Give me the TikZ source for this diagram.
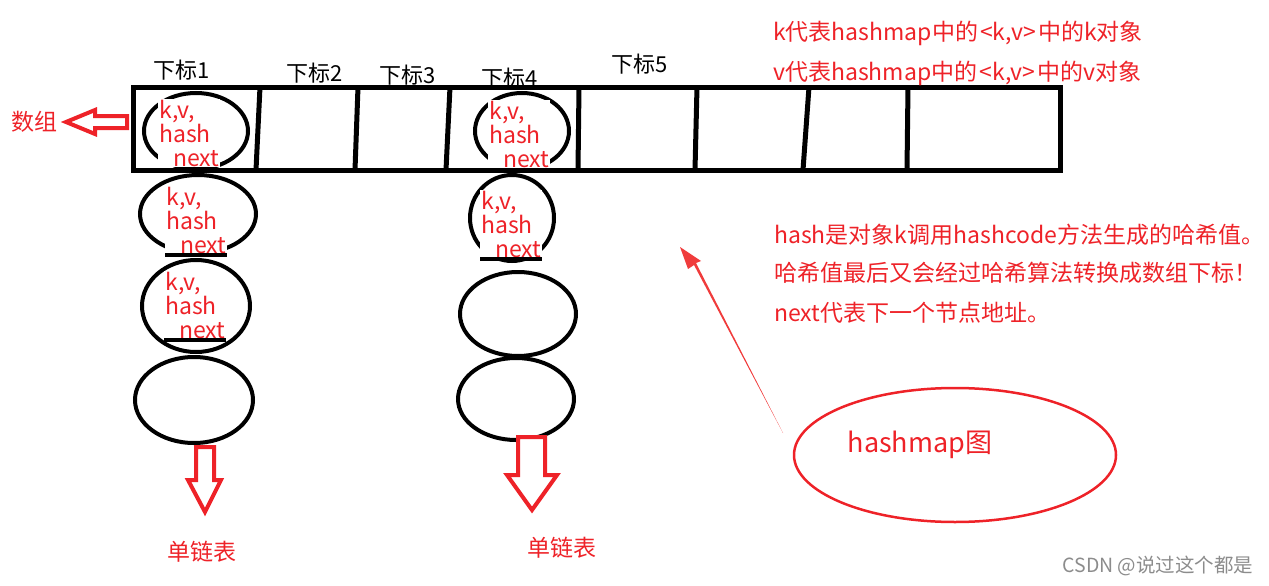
\documentclass[tikz,border=0pt]{standalone}
\usepackage{fontspec}
\setmainfont{Noto Sans CJK SC}
\usetikzlibrary{shapes.geometric}
\definecolor{myred}{RGB}{238,34,40}
\definecolor{arrred}{RGB}{240,60,60}
\tikzset{
  cell/.style={line width=5pt,black},
  node ell/.style={draw=black,line width=4pt,ellipse},
  idx/.style={font=\fontsize{22}{24}\selectfont,text=black,inner sep=0pt},
  kv/.style={font=\fontsize{23}{21}\selectfont,text=myred,fill=white,align=left,inner sep=1pt,anchor=north west},
  redtxt/.style={font=\fontsize{23}{25}\selectfont,text=myred,inner sep=0pt,anchor=west},
  hollow/.style={draw=myred,line width=4pt,fill=white,line join=miter},
  bar/.style={line width=4pt,black},
}
\newcommand{\kvtext}{k,v,\\hash\\[3pt]\hspace*{14pt}next}
\newcommand{\pairtxt}{\hspace{2pt}<k,v>\hspace{2pt}}
\begin{document}
\begin{tikzpicture}[x=1pt,y=-1pt]
\useasboundingbox (0,0) rectangle (1269,586);
% array
\draw[cell] (133,87) rectangle (1060,170);
\coordinate (d1t) at (260,87); \coordinate (d1b) at (256,170);
\coordinate (d2t) at (358,87); \coordinate (d2b) at (355,170);
\coordinate (d3t) at (450,87); \coordinate (d3b) at (446,170);
\coordinate (d4t) at (579,87); \coordinate (d4b) at (578,170);
\coordinate (d5t) at (697,87); \coordinate (d5b) at (695,170);
\coordinate (d6t) at (809,87); \coordinate (d6b) at (803,170);
\coordinate (d7t) at (908,87); \coordinate (d7b) at (907,170);
\foreach \i in {1,...,7} {\draw[cell] (d\i t) -- (d\i b);}
% index labels
\node[idx] (i1) at (182,70) {下标1};
\node[idx] (i2) at (315,73) {下标2};
\node[idx] (i3) at (408,75) {下标3};
\node[idx] (i4) at (510,78) {下标4};
\node[idx] (i5) at (640,64) {下标5};
% array label and hollow left arrow
\node[font=\fontsize{23}{25}\selectfont,text=myred,inner sep=0pt] (arr) at (35,122) {数组};
\draw[hollow] (66,122) -- (95,110) -- (95,116) -- (127,116) -- (127,128) -- (95,128) -- (95,134) -- cycle;
% left column ellipses
\node[node ell,minimum width=104pt,minimum height=76pt] (L1) at (196,131) {};
\node[node ell,minimum width=116pt,minimum height=78pt] (L2) at (198,214) {};
\node[node ell,minimum width=108pt,minimum height=92pt] (L3) at (196,306) {};
\node[node ell,minimum width=118pt,minimum height=86pt] (L4) at (194,400) {};
% right column ellipses
\node[node ell,minimum width=94pt,minimum height=76pt] (R1) at (522,131) {};
\node[node ell,minimum width=84pt,minimum height=86pt] (R2) at (512,218) {};
\node[node ell,minimum width=116pt,minimum height=84pt] (R3) at (518,314) {};
\node[node ell,minimum width=116pt,minimum height=82pt] (R4) at (516,399) {};
% texts in nodes
\node[kv] (tL1) at (158,99) {\kvtext};
\node[kv] (tL2) at (165,186) {\kvtext};
\node[kv] (tL3) at (164,271) {\kvtext};
\node[kv] (tR1) at (488,100) {\kvtext};
\node[kv] (tR2) at (480,190) {\kvtext};
\draw[cell] (133,170) -- (260,170);
\draw[cell] (446,170) -- (579,170);
\draw[bar] (tL2.south west) -- (tL2.south east);
\draw[bar] (tL3.south west) -- (tL3.south east);
\draw[bar] (tR2.south west) -- (tR2.south east);
% hollow down arrows
\draw[hollow] (205,512) -- (188,480) -- (196,480) -- (196,447) -- (214,447) -- (214,480) -- (221,480) -- cycle;
\draw[hollow] (532,510) -- (507,475) -- (518,475) -- (518,437) -- (545,437) -- (545,475) -- (557,475) -- cycle;
\node[font=\fontsize{23}{25}\selectfont,text=myred,inner sep=0pt] (ll1) at (202,552) {单链表};
\node[font=\fontsize{23}{25}\selectfont,text=myred,inner sep=0pt] (ll2) at (562,548) {单链表};
% notes
\node[redtxt] (n1) at (773,33) {k代表hashmap中的\pairtxt 中的k对象};
\node[redtxt] (n2) at (773,73) {v代表hashmap中的\pairtxt 中的v对象};
\node[redtxt] (n3) at (774,235) {hash是对象k调用hashcode方法生成的哈希值。};
\node[redtxt] (n4) at (774,273) {哈希值最后又会经过哈希算法转换成数组下标！};
\node[redtxt] (n5) at (774,313) {next代表下一个节点地址。};
% hashmap ellipse
\node[draw=myred,line width=2.5pt,ellipse,minimum width=322pt,minimum height=134pt] (hm) at (955,455) {};
\node[font=\fontsize{27}{29}\selectfont,text=myred,inner sep=0pt] (hmt) at (920,445) {hashmap图};
% tapered arrow
\coordinate (tail) at (783,433);
\coordinate (tip) at (680,247);
\fill[arrred] (tail) -- (694,265) -- (688,269) -- (tip) -- (701,261) -- (696,263) -- cycle;
% watermark
\node[font=\fontsize{19.5}{21}\selectfont,text=black!45,inner sep=0pt] (wm) at (1158,566) {CSDN @说过这个都是};
\end{tikzpicture}
\end{document}
